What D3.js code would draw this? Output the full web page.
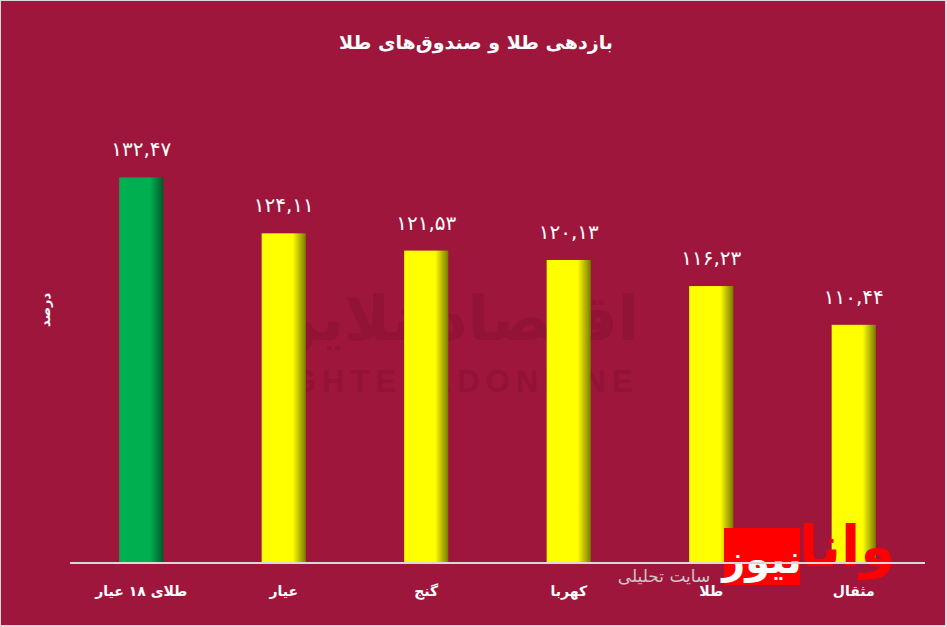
<!DOCTYPE html>
<html>
<head>
<meta charset="utf-8">
<script src="https://cdn.jsdelivr.net/npm/d3@7"></script>
<style>
  html, body { margin: 0; padding: 0; background: #d9d9d9; }
  svg { display: block; }
  text { font-family: "DejaVu Sans", sans-serif; }
</style>
</head>
<body>
<svg id="chart" width="947" height="627"></svg>
<script>
// data
var names = ["طلای ۱۸ عیار", "عیار", "گنج", "کهربا", "طلا", "مثقال"];
var returns = [132.47, 124.11, 121.53, 120.13, 116.23, 110.44];
var valueLabels = ["۱۳۲,۴۷", "۱۲۴,۱۱", "۱۲۱,۵۳", "۱۲۰,۱۳", "۱۱۶,۲۳", "۱۱۰,۴۴"];
var barKind = ["green", "yellow", "yellow", "yellow", "yellow", "yellow"];

var W = 947, H = 627;
var svg = d3.select("#chart");

// background + thin light frame
svg.append("rect").attr("x", 1).attr("y", 1).attr("width", W - 3).attr("height", H - 3)
    .attr("fill", "#9e163c");

var defs = svg.append("defs");
function barGrad(id, c1, c2) {
    var g = defs.append("linearGradient").attr("id", id)
        .attr("x1", "0%").attr("x2", "100%").attr("y1", "0%").attr("y2", "0%");
    g.append("stop").attr("offset", "0%").attr("stop-color", c1);
    g.append("stop").attr("offset", "70%").attr("stop-color", c1);
    g.append("stop").attr("offset", "100%").attr("stop-color", c2);
}
barGrad("g-yellow", "#ffff00", "#7a7a00");
barGrad("g-green", "#00b050", "#005a2a");

var x = d3.scaleBand().domain(names).range([70, 925]).paddingInner(0.69).paddingOuter(0.345);
var y = d3.scaleLinear().domain([75, 140]).range([562, 127]);

// faint watermark
svg.append("text")
    .attr("x", 452).attr("y", 392)
    .attr("text-anchor", "middle")
    .attr("font-size", 31).attr("font-weight", "bold")
    .attr("letter-spacing", 6)
    .attr("fill", "#921335")
    .style("font-family", "Arial, 'Liberation Sans', sans-serif")
    .text("EGHTESADONLINE");
svg.append("text")
    .attr("x", 452).attr("y", 340)
    .attr("text-anchor", "middle")
    .attr("font-size", 62).attr("font-weight", "bold")
    .attr("fill", "#921335")
    .text("اقتصادآنلاین");

// title
svg.append("text")
    .attr("x", 476).attr("y", 49)
    .attr("text-anchor", "middle")
    .attr("font-size", 19).attr("font-weight", "bold")
    .attr("fill", "#ffffff")
    .text("بازدهی طلا و صندوق‌های طلا");

// y axis title
svg.append("text")
    .attr("transform", "translate(50,310) rotate(-90)")
    .attr("text-anchor", "middle")
    .attr("font-size", 13).attr("font-weight", "bold")
    .attr("fill", "#ffffff")
    .text("درصد");

// bars
svg.selectAll("rect.bar")
    .data(names)
    .enter().append("rect")
    .attr("class", "bar")
    .attr("x", function (d) { return x(d); })
    .attr("width", x.bandwidth())
    .attr("y", function (d, i) { return y(returns[i]); })
    .attr("height", function (d, i) { return y(75) - y(returns[i]); })
    .attr("fill", function (d, i) { return "url(#g-" + barKind[i] + ")"; });

// value labels
svg.selectAll("text.val")
    .data(names)
    .enter().append("text")
    .attr("class", "val")
    .attr("x", function (d) { return x(d) + x.bandwidth() / 2; })
    .attr("y", function (d, i) { return y(returns[i]) - 21; })
    .attr("text-anchor", "middle")
    .attr("font-size", 20)
    .attr("fill", "#ffffff")
    .text(function (d, i) { return valueLabels[i]; });

// logo watermark bottom right
svg.append("rect").attr("x", 724).attr("y", 528).attr("width", 76).attr("height", 57)
    .attr("fill", "#ff0000");
svg.append("text").attr("x", 762).attr("y", 573).attr("text-anchor", "middle")
    .attr("font-size", 40).attr("font-weight", "bold").attr("fill", "#ffffff")
    .text("نیوز");
svg.append("text").attr("x", 847).attr("y", 566).attr("text-anchor", "middle")
    .attr("font-size", 56).attr("font-weight", "bold").attr("fill", "#ff0000")
    .text("وانا");
svg.append("text").attr("x", 664).attr("y", 582).attr("text-anchor", "middle")
    .attr("font-size", 17).attr("fill", "#cfc4c8")
    .text("سایت تحلیلی");

// baseline
svg.append("line")
    .attr("x1", 70).attr("x2", 925)
    .attr("y1", y(75) + 1).attr("y2", y(75) + 1)
    .attr("stroke", "#d9d9d9").attr("stroke-width", 2);

// category labels
svg.selectAll("text.cat")
    .data(names)
    .enter().append("text")
    .attr("class", "cat")
    .attr("x", function (d) { return x(d) + x.bandwidth() / 2; })
    .attr("y", 596)
    .attr("text-anchor", "middle")
    .attr("font-size", 14).attr("font-weight", "bold")
    .attr("fill", "#ffffff")
    .text(function (d) { return d; });
</script>
</body>
</html>
